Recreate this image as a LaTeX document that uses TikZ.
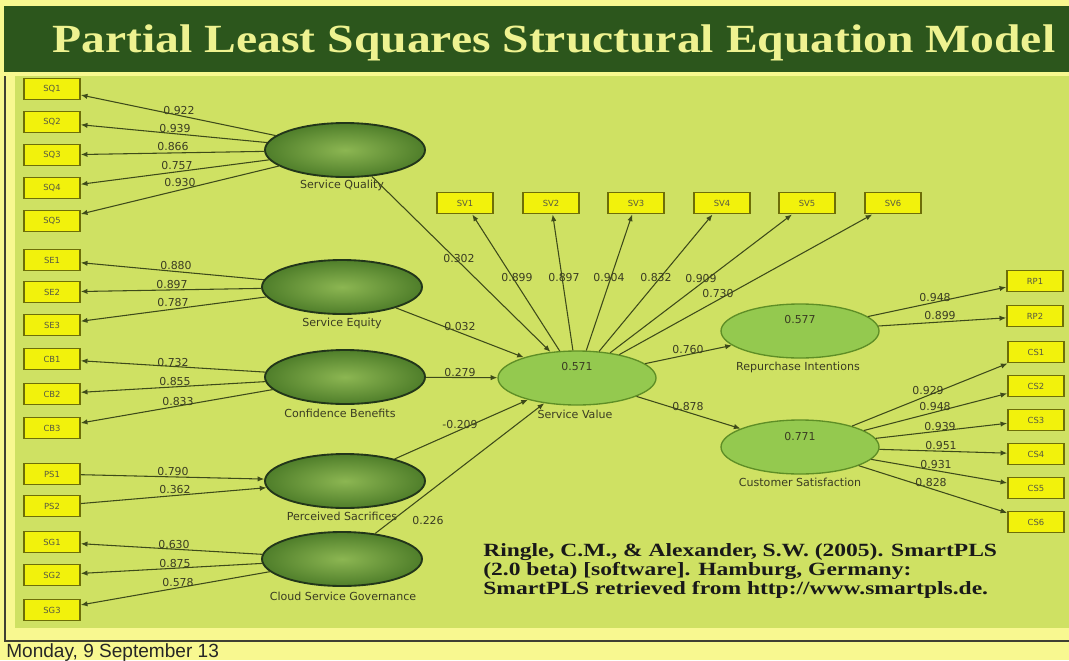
\documentclass[tikz,border=0pt]{standalone}
\usepackage{fontspec}
\setmainfont{Liberation Serif}
\newfontfamily\dejavu{DejaVu Sans}
\newfontfamily\libsans{Liberation Sans}
\usetikzlibrary{shapes.geometric,arrows.meta}
\definecolor{bgy}{HTML}{F8F890}
\definecolor{bandg}{HTML}{2C561C}
\definecolor{titley}{HTML}{EEF290}
\definecolor{panel}{HTML}{CFE163}
\definecolor{boxy}{HTML}{F2F20C}
\definecolor{boxb}{HTML}{6E6E08}
\definecolor{lnc}{HTML}{3E4A1A}
\definecolor{lvin}{HTML}{8CB652}
\definecolor{lvout}{HTML}{4F7E2A}
\definecolor{lvb}{HTML}{22361A}
\definecolor{rvf}{HTML}{94C94F}
\definecolor{rvb}{HTML}{5E8E26}
\definecolor{txt}{HTML}{3A3C22}
\definecolor{frame}{HTML}{404032}
\begin{document}
\begin{tikzpicture}[x=0.75pt,y=-0.75pt,
 ind/.style={draw=boxb, fill=boxy, line width=1.2pt, minimum width=42pt, minimum height=16pt, inner sep=0pt, font=\dejavu\fontsize{6.3}{7}\selectfont, text=txt!85},
 lvl/.style={ellipse, draw=lvb, line width=1.4pt, inner color=lvin, outer color=lvout, minimum width=120pt, minimum height=40.5pt, inner sep=0pt},
 lvr/.style={ellipse, draw=rvb, line width=1pt, fill=rvf, minimum width=118.5pt, minimum height=40.5pt, inner sep=0pt},
 lnk/.style={draw=lnc, line width=0.8pt, -{Latex[length=5pt,width=4pt]}},
 num/.style={font=\dejavu\fontsize{8.2}{9}\selectfont, text=txt, inner sep=0pt},
 lvcap/.style={font=\dejavu\fontsize{8.3}{9}\selectfont, text=txt, inner sep=0pt},
 citeln/.style={font=\bfseries\fontsize{14}{14}\selectfont, text=black!90, anchor=base west, inner sep=0pt, xscale=1.26, transform shape},
]
\useasboundingbox (0,0) rectangle (1069,660);
% background
\fill[bgy] (0,0) rectangle (1069,660);
\fill[bandg] (4,6) rectangle (1069,72);
\fill[panel] (15,76) rectangle (1069,628);
\draw[frame, line width=1.1pt] (5,76) -- (5,641) -- (1069,641);
\node[font=\bfseries\fontsize{30}{32}\selectfont, text=titley, anchor=base, inner sep=0pt, xscale=1.19, transform shape] (title) at (554,53) {Partial Least Squares Structural Equation Model};

% left latent variables
\node[lvl] (SQ) at (345,150) {};
\node[lvl] (SE) at (342,287) {};
\node[lvl] (CB) at (345,377) {};
\node[lvl] (PS) at (345,481) {};
\node[lvl] (SG) at (342,559) {};
\node[lvcap] (cSQ) at (342,185) {Service Quality};
\node[lvcap] (cSE) at (342,323) {Service Equity};
\node[lvcap] (cCB) at (340,413) {Confidence Benefits};
\node[lvcap] (cPS) at (342,516) {Perceived Sacrifices};
\node[lvcap] (cSG) at (343,596) {Cloud Service Governance};

% endogenous
\node[lvr] (SV) at (577,378) {};
\node[lvr] (RI) at (800,331) {};
\node[lvr] (CS) at (800,447) {};
\node[num] (rSV) at (577,367) {0.571};
\node[num] (rRI) at (800,320) {0.577};
\node[num] (rCS) at (800,437) {0.771};
\node[lvcap] (cSV) at (575,414) {Service Value};
\node[lvcap] (cRI) at (798,367) {Repurchase Intentions};
\node[lvcap] (cCS) at (800,482) {Customer Satisfaction};

% indicators left
\node[ind] (SQ1) at (52,89) {SQ1};
\node[ind] (SQ2) at (52,122) {SQ2};
\node[ind] (SQ3) at (52,155) {SQ3};
\node[ind] (SQ4) at (52,188) {SQ4};
\node[ind] (SQ5) at (52,221) {SQ5};
\node[ind] (SE1) at (52,260) {SE1};
\node[ind] (SE2) at (52,292) {SE2};
\node[ind] (SE3) at (52,325) {SE3};
\node[ind] (CB1) at (52,359) {CB1};
\node[ind] (CB2) at (52,394) {CB2};
\node[ind] (CB3) at (52,428) {CB3};
\node[ind] (PS1) at (52,474) {PS1};
\node[ind] (PS2) at (52,506) {PS2};
\node[ind] (SG1) at (52,542) {SG1};
\node[ind] (SG2) at (52,575) {SG2};
\node[ind] (SG3) at (52,610) {SG3};
% indicators top
\node[ind] (SV1) at (465,203) {SV1};
\node[ind] (SV2) at (551,203) {SV2};
\node[ind] (SV3) at (636,203) {SV3};
\node[ind] (SV4) at (722,203) {SV4};
\node[ind] (SV5) at (807,203) {SV5};
\node[ind] (SV6) at (893,203) {SV6};
% indicators right
\node[ind] (RP1) at (1035,281) {RP1};
\node[ind] (RP2) at (1035,316) {RP2};
\node[ind] (CS1) at (1036,352) {CS1};
\node[ind] (CS2) at (1036,386) {CS2};
\node[ind] (CS3) at (1036,420) {CS3};
\node[ind] (CS4) at (1036,454) {CS4};
\node[ind] (CS5) at (1036,488) {CS5};
\node[ind] (CS6) at (1036,522) {CS6};

% measurement links
\foreach \i in {1,...,5} \draw[lnk] (SQ) -- (SQ\i);
\foreach \i in {1,2,3} \draw[lnk] (SE) -- (SE\i);
\foreach \i in {1,2,3} \draw[lnk] (CB) -- (CB\i);
\foreach \i in {1,2} \draw[lnk] (PS\i) -- (PS);
\foreach \i in {1,2,3} \draw[lnk] (SG) -- (SG\i);
\foreach \i in {1,...,6} \draw[lnk] (SV) -- (SV\i);
\foreach \i in {1,2} \draw[lnk] (RI) -- (RP\i);
\foreach \i in {1,...,6} \draw[lnk] (CS) -- (CS\i);
% structural links
\draw[lnk] (SQ) -- (SV);
\draw[lnk] (SE) -- (SV);
\draw[lnk] (CB) -- (SV);
\draw[lnk] (PS) -- (SV);
\draw[lnk] (SG) -- (SV);
\draw[lnk] (SV) -- (RI);
\draw[lnk] (SV) -- (CS);

% loadings
\node[num] (l1) at (179,111) {0.922};
\node[num] (l2) at (175,129) {0.939};
\node[num] (l3) at (173,147) {0.866};
\node[num] (l4) at (177,166) {0.757};
\node[num] (l5) at (180,183) {0.930};
\node[num] (l6) at (176,266) {0.880};
\node[num] (l7) at (172,285) {0.897};
\node[num] (l8) at (173,303) {0.787};
\node[num] (l9) at (173,363) {0.732};
\node[num] (l10) at (175,382) {0.855};
\node[num] (l11) at (178,402) {0.833};
\node[num] (l12) at (173,472) {0.790};
\node[num] (l13) at (175,490) {0.362};
\node[num] (l14) at (174,545) {0.630};
\node[num] (l15) at (175,564) {0.875};
\node[num] (l16) at (178,583) {0.578};
\node[num] (l17) at (517,278) {0.899};
\node[num] (l18) at (564,278) {0.897};
\node[num] (l19) at (609,278) {0.904};
\node[num] (l20) at (656,278) {0.832};
\node[num] (l21) at (701,279) {0.909};
\node[num] (l22) at (718,294) {0.730};
\node[num] (l23) at (935,298) {0.948};
\node[num] (l24) at (940,316) {0.899};
\node[num] (l25) at (928,391) {0.929};
\node[num] (l26) at (935,407) {0.948};
\node[num] (l27) at (940,427) {0.939};
\node[num] (l28) at (941,446) {0.951};
\node[num] (l29) at (936,465) {0.931};
\node[num] (l30) at (931,483) {0.828};
% path coefficients
\node[num] (p1) at (459,259) {0.302};
\node[num] (p2) at (460,327) {0.032};
\node[num] (p3) at (460,373) {0.279};
\node[num] (p4) at (460,425) {-0.209};
\node[num] (p5) at (428,521) {0.226};
\node[num] (p6) at (688,350) {0.760};
\node[num] (p7) at (688,407) {0.878};

% citation
\node[citeln] (cite1) at (483,556) {Ringle, C.M., \& Alexander, S.W. (2005). SmartPLS};
\node[citeln] (cite2) at (483,575) {(2.0 beta) [software]. Hamburg, Germany:};
\node[citeln] (cite3) at (483,594) {SmartPLS retrieved from http://www.smartpls.de.};
\node[font=\libsans\fontsize{14.3}{16}\selectfont, text=black!85, anchor=base west, inner sep=0pt] (date) at (6,657) {Monday, 9 September 13};
\end{tikzpicture}
\end{document}
